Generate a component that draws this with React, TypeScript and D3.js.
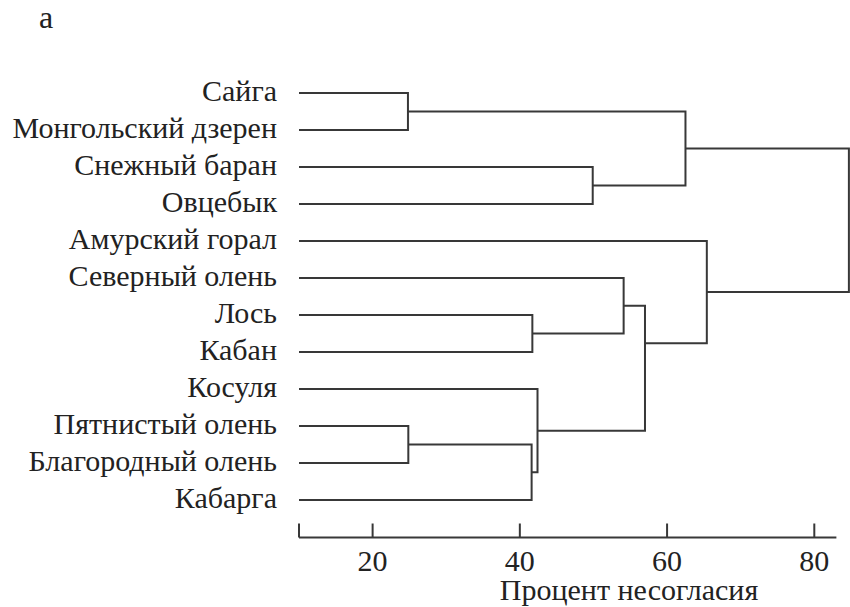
import React from "react";
import * as d3 from "d3";

// Species (leaves), top to bottom
const leaves = [
  "Сайга",
  "Монгольский дзерен",
  "Снежный баран",
  "Овцебык",
  "Амурский горал",
  "Северный олень",
  "Лось",
  "Кабан",
  "Косуля",
  "Пятнистый олень",
  "Благородный олень",
  "Кабарга",
];

// Agglomeration steps: node ids 0..11 are leaves, each merge creates id 12, 13, ...
const mergeLeft = [0, 2, 12, 6, 5, 9, 17, 8, 16, 4, 14];
const mergeRight = [1, 3, 13, 7, 15, 10, 11, 18, 19, 20, 21];
const mergeHeight = [24.8, 49.9, 62.5, 41.7, 54.1, 24.85, 41.6, 42.4, 57.0, 65.4, 84.7];
// where along a joint the link to the parent leaves (0 = top child, 1 = bottom child)
const mergeAnchor = [0.5, 0.5, 0.5, 0.5, 0.5, 0.5, 0.5, 0.5, 0.3, 0.5, 0.5];

const tickValues = [20, 40, 60, 80];
const axisStart = 10;
const axisEnd = 83;
const axisTitle = "Процент несогласия";
const panelLetter = "а";

const W = 850;
const H = 607;
const FONT = `"Liberation Serif", "Tinos", "Times New Roman", serif`;
const INK = "#383838";
const TEXT = "#222";

export default function App() {
  const x = d3.scaleLinear().domain([10, 80]).range([299, 814.3]);
  const y = d3.scalePoint<string>().domain(leaves).range([93, 500]);

  const n = leaves.length;
  const nodeX: number[] = leaves.map(() => x(axisStart));
  const nodeY: number[] = leaves.map((l) => y(l) as number);
  const paths: string[] = [];

  mergeLeft.forEach((a, i) => {
    const b = mergeRight[i];
    const h = x(mergeHeight[i]);
    const ya = nodeY[a];
    const yb = nodeY[b];
    const p = d3.path();
    p.moveTo(nodeX[a], ya);
    p.lineTo(h, ya);
    p.lineTo(h, yb);
    p.lineTo(nodeX[b], yb);
    paths.push(p.toString());
    nodeX[n + i] = h;
    nodeY[n + i] = ya + (yb - ya) * mergeAnchor[i];
  });

  const axisY = 537.5;

  return (
    <svg width={W} height={H} style={{ position: "absolute", left: 0, top: 0, background: "#fff" }}>
      <text x={39} y={28} fontSize={32} fill={TEXT} style={{ fontFamily: FONT }}>
        {panelLetter}
      </text>

      {leaves.map((l) => (
        <text
          key={l}
          x={277}
          y={y(l)}
          dy="0.28em"
          textAnchor="end"
          fontSize={30}
          fill={TEXT}
          style={{ fontFamily: FONT }}
        >
          {l}
        </text>
      ))}

      {paths.map((d, i) => (
        <path key={i} d={d} fill="none" stroke={INK} strokeWidth={2} strokeLinejoin="miter" />
      ))}

      <g>
        <line x1={x(axisStart)} x2={x(axisEnd)} y1={axisY} y2={axisY} stroke={INK} strokeWidth={2} />
        <line x1={x(axisStart)} x2={x(axisStart)} y1={axisY} y2={axisY - 14} stroke={INK} strokeWidth={2} />
        {tickValues.map((t) => (
          <g key={t}>
            <line x1={x(t)} x2={x(t)} y1={axisY} y2={axisY - 14} stroke={INK} strokeWidth={2} />
            <text x={x(t)} y={571} textAnchor="middle" fontSize={30} fill={TEXT} style={{ fontFamily: FONT }}>
              {t}
            </text>
          </g>
        ))}
        <text x={629} y={600} textAnchor="middle" fontSize={30} fill={TEXT} style={{ fontFamily: FONT }}>
          {axisTitle}
        </text>
      </g>
    </svg>
  );
}
